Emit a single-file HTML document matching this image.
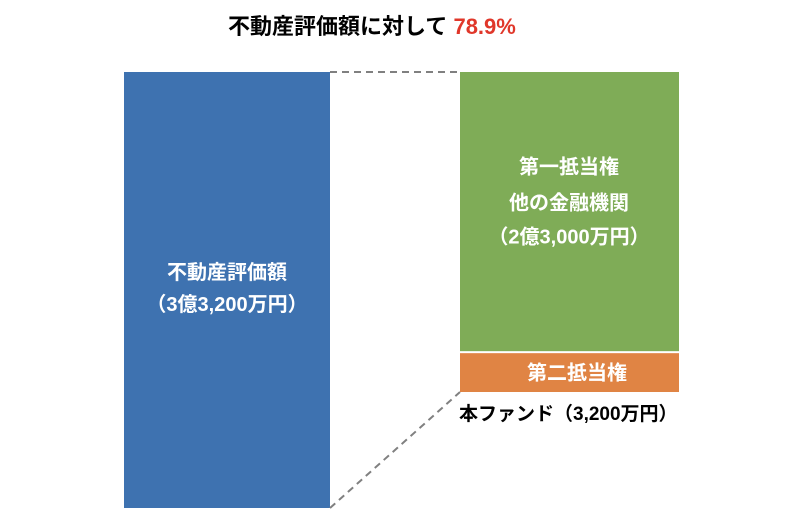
<!DOCTYPE html>
<html><head><meta charset="utf-8"><style>
body{margin:0;background:#fff;width:812px;height:526px;overflow:hidden;font-family:"Liberation Sans","Noto Sans CJK JP",sans-serif}
svg text{font-family:"Liberation Sans","Noto Sans CJK JP",sans-serif;font-weight:bold}
</style></head><body>
<svg id="c" width="812" height="526">
<text x="228" y="34" font-size="22" fill="#000">不動産評価額に対して <tspan fill="#e0372a">78.9%</tspan></text>
</svg>
<script>
const leftCategories=["不動産評価額"];
const leftValues=[32000];
const rightCategories=["第一抵当権 他の金融機関","第二抵当権 本ファンド"];
const rightValues=[23000,3200];
const ns="http://www.w3.org/2000/svg";
const svg=document.getElementById('c');
function mk(t,a){const e=document.createElementNS(ns,t);for(const k in a)e.setAttribute(k,a[k]);svg.appendChild(e);return e;}
const yTop=72, yBottom=508;
const leftScale=v=>v*(yBottom-yTop)/leftValues[0];
const rightTotal=rightValues.reduce((a,b)=>a+b,0);
const rightScale=v=>v*318/rightTotal;
const lh=leftScale(leftValues[0]);
const lb=mk('rect',{x:124,y:yBottom-lh,width:206,height:lh,fill:'#3e72b0'});


let y=yTop;
const colors=['#7fac57','#e08444'];
const rects=[];
rightValues.forEach((v,i)=>{const h=rightScale(v);const r=mk('rect',{x:460,y:y,width:219,height:h,fill:colors[i]});


rects.push([y,h]);y+=h+2;});
const orangeBottom=rects[1][0]+rects[1][1];
const d1=mk('line',{x1:330,y1:yTop,x2:460,y2:yTop,stroke:'#808080','stroke-width':2,'stroke-dasharray':'7,5'});


const d2=mk('line',{x1:330,y1:yBottom,x2:460,y2:orangeBottom,stroke:'#808080','stroke-width':2,'stroke-dasharray':'7,5'});


function txt(x,y,s,fill,anchor,name,fs){const t=mk('text',{x:x,y:y,'font-size':fs||20,fill:fill,'text-anchor':anchor});t.textContent=s;

return t;}
const lc=yBottom-lh/2;
txt(227,lc-11,"不動産評価額","#fff","middle","property-label");
txt(227,lc+21,"（3億3,200万円）","#fff","middle","property-amount");
const gc=rects[0][0]+rects[0][1]/2;
txt(569,gc-38,"第一抵当権","#fff","middle","first-mortgage-label");
txt(569,gc-2,"他の金融機関","#fff","middle","lender-label");
txt(569,gc+32,"（2億3,000万円）","#fff","middle","first-mortgage-amount");
txt(577,rects[1][0]+rects[1][1]/2+7,"第二抵当権","#fff","middle","second-mortgage-label");
txt(459,orangeBottom+28,"本ファンド（3,200万円）","#000","start","fund-amount-label",19);
</script>
</body></html>
